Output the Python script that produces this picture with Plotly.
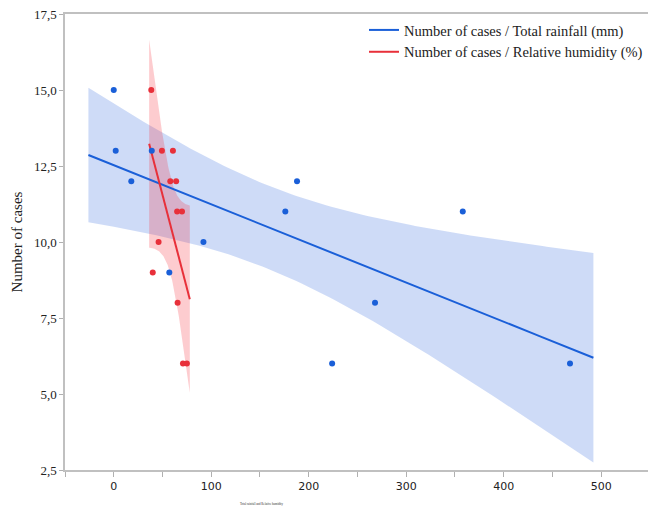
import numpy as np
import plotly.graph_objects as go

# ---- data ----
rain_mm = [0, 2, 18, 39, 57, 92, 176, 188, 224, 268, 358, 468]
rain_cases = [15, 13, 12, 13, 9, 10, 11, 12, 6, 8, 11, 6]

humid_pct = [38.5, 40, 46, 49.4, 60.7, 58, 64, 65, 70, 65.5, 71, 75]
humid_cases = [15, 9, 10, 13, 13, 12, 12, 11, 11, 8, 6, 6]

rain_fit_range = [-26, 492]
humid_fit_range = [36.3, 78]
T_CRIT = 2.228  # t(0.975, df=10)

y_ticks = [2.5, 5.0, 7.5, 10.0, 12.5, 15.0, 17.5]
x_tickvals = [-50, 0, 50, 100, 150, 200, 250, 300, 350, 400, 450, 500]
x_ticktext = ["", "0", "", "100", "", "200", "", "300", "", "400", "", "500"]

BLUE = "#1a5fd8"
RED = "#e8303a"


def fit_with_ci(x, y, xr, n=120):
    x = np.asarray(x, float)
    y = np.asarray(y, float)
    b, a = np.polyfit(x, y, 1)
    res = y - (a + b * x)
    s = np.sqrt(np.sum(res ** 2) / (len(x) - 2))
    mx = x.mean()
    sxx = np.sum((x - mx) ** 2)
    xs = np.linspace(xr[0], xr[1], n)
    ys = a + b * xs
    se = s * np.sqrt(1.0 / len(x) + (xs - mx) ** 2 / sxx)
    return xs, ys, ys - T_CRIT * se, ys + T_CRIT * se


rx, ry, rlo, rhi = fit_with_ci(rain_mm, rain_cases, rain_fit_range)
hx, hy, hlo, hhi = fit_with_ci(humid_pct, humid_cases, humid_fit_range)

fig = go.Figure()

# confidence bands
fig.add_trace(go.Scatter(
    x=np.concatenate([rx, rx[::-1]]), y=np.concatenate([rhi, rlo[::-1]]),
    fill="toself", fillcolor="rgba(30,90,220,0.22)", line=dict(width=0),
    mode="lines", showlegend=False, hoverinfo="skip"))
fig.add_trace(go.Scatter(
    x=np.concatenate([hx, hx[::-1]]), y=np.concatenate([hhi, hlo[::-1]]),
    fill="toself", fillcolor="rgba(245,40,55,0.24)", line=dict(width=0),
    mode="lines", showlegend=False, hoverinfo="skip"))

# fit lines
fig.add_trace(go.Scatter(x=rx, y=ry, mode="lines", line=dict(color=BLUE, width=2),
                         name="Number of cases / Total rainfall (mm)"))
fig.add_trace(go.Scatter(x=hx, y=hy, mode="lines", line=dict(color=RED, width=2),
                         name="Number of cases / Relative humidity (%)"))

# points
fig.add_trace(go.Scatter(x=rain_mm, y=rain_cases, mode="markers",
                         marker=dict(color=BLUE, size=6), showlegend=False))
fig.add_trace(go.Scatter(x=humid_pct, y=humid_cases, mode="markers",
                         marker=dict(color=RED, size=6), showlegend=False))

fig.update_layout(
    width=648, height=511,
    margin=dict(l=65, r=0, t=14, b=41),
    paper_bgcolor="white", plot_bgcolor="white",
    separators=", ",
    font=dict(family="Liberation Serif", color="#222222"),
    legend=dict(x=1.0, xanchor="right", y=1.0, yanchor="top",
                bgcolor="rgba(0,0,0,0)", font=dict(family="Liberation Serif", size=14.5, color="#222222"),
                tracegroupgap=0, itemwidth=30),
    xaxis=dict(range=[-50, 548], tickmode="array", tickvals=x_tickvals, ticktext=x_ticktext,
               showgrid=False, zeroline=False, showline=True, linecolor="#c0c0c0", linewidth=1.5,
               mirror=True, ticks="outside", ticklen=5, tickcolor="#b0b0b0",
               tickfont=dict(family="DejaVu Sans", size=11, color="#222222")),
    yaxis=dict(range=[2.5, 17.5], tickmode="array", tickvals=y_ticks, tickformat=".1f",
               showgrid=False, zeroline=False, showline=True, linecolor="#c0c0c0", linewidth=1.5,
               ticks="outside", ticklen=4, tickcolor="#b0b0b0",
               tickfont=dict(family="Liberation Serif", size=13, color="#222222"),
               title=dict(text="Number of cases", font=dict(family="Liberation Serif", size=15, color="#222222"),
                          standoff=8)),
    annotations=[dict(text="Total rainfall and Relative humidity", xref="paper", yref="paper",
                      x=0.337, y=-0.075, xanchor="center", yanchor="middle", showarrow=False,
                      font=dict(family="Liberation Serif", size=3, color="#333333"))],
)

fig.write_html("out.html")
